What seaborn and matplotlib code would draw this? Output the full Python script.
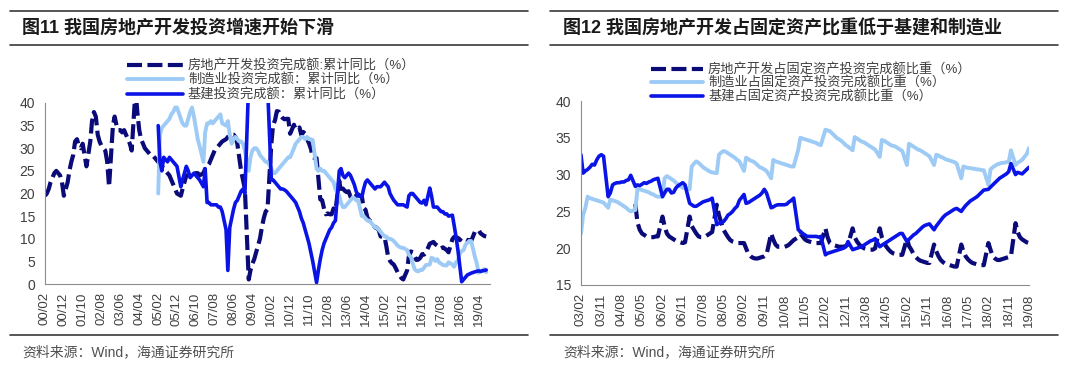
import pandas as pd
import matplotlib
matplotlib.use("Agg")
import matplotlib.pyplot as plt
from matplotlib.lines import Line2D
import seaborn as sns

# ---- left chart: cumulative y/y growth (%), monthly, January not published ----
re_yoy = [
    19.5, 20, 21, 22.5, 23.5, 24.5, 25, 24.5, 24, 22.5, 19.5,      # 2000
    22.5, 25, 27, 28.5, 31.5, 32, 30.5, 30, 31, 28.5, 26,          # 2001
    31.5, 36, 38, 37, 33, 31.5, 30.5, 30, 29.5, 27, 21.5,          # 2002
    35, 37, 35, 34, 34, 33.5, 34, 33, 32, 31, 29.5,                # 2003
    43, 38, 34, 32, 31, 30, 29.5, 29, 28.5, 28.5, 28,              # 2004
    27, 26.5, 26, 25.5, 25, 24.5, 24, 23, 22, 21, 20,              # 2005
    19.5, 21, 22.5, 24, 24, 24, 23.5, 24, 24.5, 24.5, 24,          # 2006
    24.5, 25.5, 26, 26.5, 27.5, 28.5, 29.5, 30, 30.5, 31, 31.5,    # 2007
    32, 32.5, 33, 33, 33, 32.5, 31, 28, 25, 23, 21,                # 2008
    1, 3, 4.5, 5.5, 7, 8.5, 10, 12.5, 14.5, 16, 16.5,              # 2009
    31, 35.1, 36.2, 38.2, 38.1, 37.2, 36.7, 36.4, 36.5, 36.5, 33.2,
    35.2, 34.1, 34.3, 34.6, 32.9, 33.6, 33.2, 32.0, 31.1, 29.9, 27.9,
    27.8, 23.5, 18.7, 18.5, 16.6, 15.4, 15.6, 15.4, 15.4, 16.7, 16.2,
    22.8, 20.2, 21.1, 20.6, 20.3, 20.5, 19.3, 19.7, 19.2, 19.5, 19.8,
    19.3, 16.8, 16.4, 14.7, 14.1, 13.7, 13.2, 12.5, 12.4, 11.9, 10.5,
    10.4, 8.5, 6.0, 5.1, 4.6, 4.3, 3.5, 2.6, 2.0, 1.3, 1.0,
    3.0, 6.2, 7.2, 7.0, 6.1, 5.3, 5.4, 5.8, 6.6, 6.5, 6.9,
    8.9, 9.1, 9.3, 8.8, 8.5, 7.9, 7.9, 8.1, 7.8, 7.5, 7.0,
    9.9, 10.4, 10.3, 10.2, 9.7, 10.2, 10.1, 9.9, 9.7, 9.7, 9.5,
    11.6, 11.8, 11.9, 11.2, 10.9, 10.6, 10.5,                       # 2019
]
mfg_yoy = [
    20, 33, 34.5, 35, 35.5, 36, 36.5, 37.5, 38, 39, 39,            # 2005
    36.5, 35.5, 35, 35, 36.5, 38, 39, 37, 34.5, 32, 30.5,
    27, 33.5, 35.5, 35.5, 36, 35.5, 36, 36.5, 37, 37.5, 35.5,
    35, 36, 33, 31, 32, 32.5, 32, 31.5, 31.5, 31, 29.5,
    25, 28, 29.5, 30, 30, 29.5, 28.5, 28, 27.5, 27, 27,
    25.5, 24.5, 24.5, 25, 25.5, 26, 26.5, 27, 27.5, 28, 28,
    30, 31, 31.5, 32, 32.5, 32.5, 32, 32.5, 32, 32, 31.8,
    25.5, 25, 25.5, 25, 25, 24.5, 24, 23.5, 23, 22.5, 21,
    19.5, 18, 17, 17, 17.5, 18, 18.5, 19, 19, 18.5, 18.5,
    15, 15, 14.5, 14, 14, 13.5, 13, 12.5, 12.5, 12, 11.5,
    10.5, 10.5, 10, 10, 9.8, 9.5, 9, 8.5, 8.2, 8, 8,
    7.5, 6.4, 6, 4.6, 3.3, 2.9, 2.8, 3.1, 3.1, 3.6, 4.2,
    4.3, 5.8, 5.6, 5.1, 5.5, 4.8, 4.5, 4.2, 4.1, 4.1, 4.8,
    4.3, 3.8, 4.8, 5.2, 6.8, 7.3, 7.5, 8.7, 9.1, 9.5, 9.5,
    5.9, 4.6, 2.5, 2.7, 3.0, 3.3, 2.6,                              # 2019
]
infra_yoy = [
    35, 27, 25, 28, 27.5, 27, 28, 27.5, 27, 26.5, 26,              # 2005
    21.5, 23, 24.5, 26, 25, 23.5, 24, 24.5, 24, 23.5, 23,
    21.5, 25.5, 18, 18, 17.5, 17.5, 17.5, 17.5, 17, 17, 16,
    12, 3, 12.5, 14.5, 16.5, 18, 18.5, 19.5, 20.5, 21, 20,
    45, 55, 55, 55, 55, 55, 52, 50, 48, 46, 44,
    23, 23, 22.5, 22, 21.5, 21, 21, 20.8, 20.5, 20, 19.5,
    18.5, 18, 17, 16, 14.5, 13.5, 12, 10.5, 9, 7, 5,
    0.3, 3, 5.5, 7.5, 9, 10, 11, 12, 12.5, 13.5, 14,
    25, 25.5, 24, 23.5, 24, 24.5, 24, 23, 22, 20.5, 19.5,
    19.2, 21, 22.5, 23, 22.5, 22, 21.5, 21, 21.5, 21.5, 21.5,
    22.5, 22, 21.5, 20, 19.2, 18.5, 18, 17.5, 17.5, 17.5, 17.5,
    17, 19.5, 20, 20, 19.5, 19, 18.5, 18, 17.9, 18.5, 17.5,
    21.2, 19.5, 17, 17, 17, 16.5, 16, 16, 15.5, 15.5, 15,
    15.2, 13, 10.4, 7.5, 4, 0.5, 1, 1.5, 2, 2.2, 2.4,
    2.7, 2.8, 2.9, 2.8, 2.9, 3.0, 3.1,                              # 2019
]

# ---- right chart: share of fixed asset investment (%) ----
re_share = [
    26, 23.5, 22.5, 22, 21.8, 21.6, 21.5, 21.5, 21.5, 21.6, 21.6,  # 2005
    24.3, 23, 22, 21.6, 21.4, 21.2, 21, 20.9, 20.8, 20.7, 20.8,
    24.3, 23, 22.5, 22, 21.6, 21.5, 21.5, 21.6, 21.8, 22, 22.2,
    25.9, 24.5, 23.5, 22.5, 22, 21.5, 21.1, 20.9, 20.8, 20.7, 20.7,
    20.7, 20, 19.2, 18.9, 18.7, 18.6, 18.6, 18.7, 18.8, 18.9, 19.1,
    22, 21.2, 20.5, 20.2, 20.2, 20.2, 20.2, 20.3, 20.5, 20.8, 21.1,
    21.5, 22, 21.6, 21.2, 21, 20.9, 20.8, 20.7, 20.7, 20.7, 20.7,
    22.7, 21.5, 20.7, 20.5, 20.4, 20.3, 20.2, 20.2, 20.2, 20.3, 20.5,
    22.7, 21.5, 20.9, 20.5, 20.2, 20, 19.9, 19.8, 19.8, 19.8, 20,
    22.7, 21.5, 20.7, 20.2, 19.8, 19.5, 19.3, 19.2, 19.1, 19.1, 19.1,
    21.3, 20.3, 19.8, 19.2, 18.8, 18.5, 18.3, 18.2, 18.1, 18, 18,
    20.5, 19.6, 18.9, 18.4, 18.1, 17.9, 17.8, 17.7, 17.6, 17.5, 17.5,
    20.5, 19.6, 18.9, 18.5, 18.2, 18, 17.9, 17.8, 17.7, 17.7, 17.7,
    20.7, 19.8, 18.9, 18.6, 18.4, 18.4, 18.5, 18.6, 18.7, 18.8, 18.9,
    23.4, 22.2, 21.5, 21.2, 21, 20.8, 20.7,                         # 2019
]
mfg_share = [
    22, 24.5, 25.5, 27, 26.8, 26.7, 26.6, 26.5, 26.4, 26.3, 26.2,  # 2003
    25.5, 26.6, 26.5, 26.4, 26.3, 26.1, 25.9, 25.7, 25.5, 25.2, 25,
    25.2, 28, 28, 27.9, 27.8, 27.7, 27.6, 27.4, 27.3, 27.1, 27,
    27, 29.5, 29.8, 29.6, 29.4, 29.2, 28.9, 28.6, 28.4, 28.2, 28.2,
    28, 31.1, 31.5, 31.8, 31.6, 31.3, 31, 30.8, 30.6, 30.4, 30.3,
    30.2, 32.7, 33, 33.2, 33.1, 32.9, 32.7, 32.5, 32.3, 32, 31.8,
    30.5, 32.3, 32.1, 31.9, 31.8, 31.6, 31.3, 31, 30.9, 30.7, 30.5,
    29.5, 32, 31.8, 31.7, 31.6, 31.5, 31.4, 31.3, 31.2, 31.1, 31.1,
    33.4, 35, 34.9, 34.8, 34.7, 34.6, 34.5, 34.4, 34.3, 34.1, 34,
    36.1, 36, 35.9, 35.6, 35.3, 35, 34.8, 34.6, 34.3, 34, 33.8,
    33.3, 35.1, 34.9, 34.7, 34.5, 34.4, 34.2, 34, 33.8, 33.6, 33.4,
    32.4, 34.7, 34.6, 34.4, 34.2, 34, 33.9, 33.8, 33.6, 33.4, 33.2,
    31.3, 34.2, 34, 33.8, 33.6, 33.4, 33.3, 33.1, 32.9, 32.7, 32.5,
    31.3, 32.7, 32.6, 32.4, 32.3, 32.1, 32, 31.9, 31.8, 31.7, 31.5,
    29.5, 31.1, 31, 30.9, 30.9, 30.8, 30.8, 30.7, 30.7, 30.6, 30.6,
    28.6, 30.7, 31, 31.2, 31.4, 31.5, 31.6, 31.6, 31.7, 31.7, 33.3,
    31.3, 31.6, 31.8, 32, 32.4, 32.8, 33.6,                         # 2019
]
infra_share = [
    32.7, 30.2, 30.5, 30.7, 31, 31.4, 31.3, 32, 32.5, 32.7, 32.5,  # 2003
    27, 27.5, 28.6, 28.8, 28.9, 28.9, 29, 29, 29.2, 29.3, 29.9,
    28.4, 28.6, 28.5, 28.7, 28.9, 28.8, 29, 29.1, 29.3, 29.4, 29.5,
    27, 27.5, 28, 28, 27.5, 27.6, 28.2, 28.5, 28.7, 28.9, 28.6,
    26.1, 25.9, 25.7, 25.7, 25.9, 26.1, 26.3, 26.4, 26.5, 26.6, 26.8,
    23.2, 23.4, 23.5, 23.6, 24, 24.5, 24.7, 25, 25.4, 25.7, 26.5,
    27.3, 26.1, 26.2, 26.4, 26.6, 26.8, 27, 27.2, 27.5, 28, 27.5,
    25.5, 25.6, 25.8, 25.9, 25.9, 25.9, 25.9, 26, 26.3, 26.5, 26.8,
    22.5, 22.3, 22, 21.8, 21.6, 21.6, 21.6, 21.6, 21.6, 21.5, 21.6,
    19.1, 19.3, 19.4, 19.5, 19.6, 19.7, 19.8, 19.9, 20, 20.2, 20.9,
    19.8, 19.9, 20, 20.1, 20.2, 20.4, 20.6, 20.8, 21, 21.1, 21.3,
    20.2, 20.4, 20.6, 20.8, 21, 21.2, 21.4, 21.6, 21.8, 22, 22,
    20.9, 21.2, 21.5, 21.8, 22, 22.3, 22.6, 22.9, 23.1, 23.2, 23.3,
    22.5, 23, 23.4, 23.8, 24.2, 24.5, 24.7, 24.9, 25.1, 25.3, 25.4,
    25, 25.4, 25.8, 26.1, 26.4, 26.6, 26.8, 27, 27.3, 27.6, 27.9,
    28, 28.3, 28.6, 28.9, 29.2, 29.5, 29.7, 29.9, 30.1, 30.4, 31.5,
    30, 30.3, 30.2, 30.1, 30.4, 30.7, 31,                           # 2019
]

left_labels = ["房地产开发投资完成额:累计同比（%）",
               "制造业投资完成额：累计同比（%）",
               "基建投资完成额：累计同比（%）"]
right_labels = ["房地产开发占固定资产投资完成额比重（%）",
                "制造业占固定资产投资完成额比重（%）",
                "基建占固定资产投资完成额比重（%）"]
titles = ["图11 我国房地产开发投资增速开始下滑",
          "图12 我国房地产开发占固定资产比重低于基建和制造业"]
source = "资料来源：Wind，海通证券研究所"


def months(start, end):
    d = pd.date_range(start, end, freq="MS")
    return d[d.month != 1]


sns.set_style("white")
plt.rcParams["font.family"] = ["Liberation Sans", "Noto Sans CJK SC"]

NAVY, LIGHT, BLUE = "#0a0a78", "#9dcbf5", "#0a14e6"
GREY = "#404040"

fig = plt.figure(figsize=(10.8, 3.75), dpi=100)
ax1 = fig.add_axes([45 / 1080, 1 - 284 / 375, 445 / 1080, 181 / 375])
ax2 = fig.add_axes([581 / 1080, 1 - 285 / 375, 448 / 1080, 184 / 375])

panels = [
    (ax1, [("2000-02", re_yoy), ("2005-02", mfg_yoy), ("2005-02", infra_yoy)],
     left_labels, (0, 40), range(0, 41, 5), 10, "2000-02", "2019-10"),
    (ax2, [("2005-02", re_share), ("2003-02", mfg_share), ("2003-02", infra_share)],
     right_labels, (15, 40), range(15, 41, 5), 9, "2003-02", "2019-08"),
]

for ax, series, labels, ylim, yticks, step, x0, x1 in panels:
    styles = [(NAVY, 3.0, (0, (3.6, 1.3))), (LIGHT, 2.8, "-"), (BLUE, 2.6, "-")]
    for (start, vals), lab, (col, lw, ls) in zip(series, labels, styles):
        idx = months(start, "2019-08")
        df = pd.DataFrame({"date": idx[:len(vals)], "val": vals})
        sns.lineplot(data=df, x="date", y="val", ax=ax, color=col, linewidth=lw,
                     linestyle=ls, label=lab, estimator=None, sort=False)
    ax.set_ylim(*ylim)
    ax.set_yticks(list(yticks))
    ticks = pd.date_range(x0, "2019-08", freq=f"{step}MS")
    ax.set_xticks(ticks)
    ax.set_xticklabels([t.strftime("%y/%m") for t in ticks], rotation=90)
    ax.set_xlim(pd.Timestamp(x0), pd.Timestamp(x1))
    ax.set_xlabel("")
    ax.set_ylabel("")
    for s in ["top", "right"]:
        ax.spines[s].set_visible(False)
    for s in ["left", "bottom"]:
        ax.spines[s].set_color("#8c8c8c")
        ax.spines[s].set_linewidth(0.8)
    ax.tick_params(axis="y", direction="out", length=4, width=0.8, color="#8c8c8c",
                   labelsize=10, labelcolor=GREY, pad=3)
    ax.tick_params(axis="x", direction="out", length=3, width=0.8, color="#8c8c8c",
                   labelsize=9.5, labelcolor=GREY, pad=3)
    ax.legend_.remove()

# legends sit above the plotting area
h1, l1 = ax1.get_legend_handles_labels()
fig.legend(h1, l1, loc="upper left", bbox_to_anchor=(122 / 1080, 1 - 54 / 375),
           frameon=False, fontsize=9.5, handlelength=4.2, handletextpad=0.4,
           labelspacing=0.12, borderaxespad=0, labelcolor=GREY)
h2, l2 = ax2.get_legend_handles_labels()
fig.legend(h2, l2, loc="upper left", bbox_to_anchor=(646 / 1080, 1 - 58 / 375),
           frameon=False, fontsize=9.5, handlelength=3.9, handletextpad=0.4,
           labelspacing=0.06, borderaxespad=0, labelcolor=GREY)

# header / footer rules and texts
for xa, xb, tx, title in [(10, 528, 22, titles[0]), (550, 1058, 563, titles[1])]:
    for yy in (11, 45, 335):
        fig.add_artist(Line2D([xa / 1080, xb / 1080], [1 - yy / 375, 1 - yy / 375],
                              color="#3a3a3a", lw=1.2))
    fig.text(tx / 1080, 1 - 28 / 375, title, fontsize=13, fontweight="bold",
             color="#1a1a1a", va="center", ha="left")
    fig.text(tx / 1080, 1 - 352 / 375, source, fontsize=10, color="#505050",
             va="center", ha="left")

fig.savefig("out.png", dpi=100)
